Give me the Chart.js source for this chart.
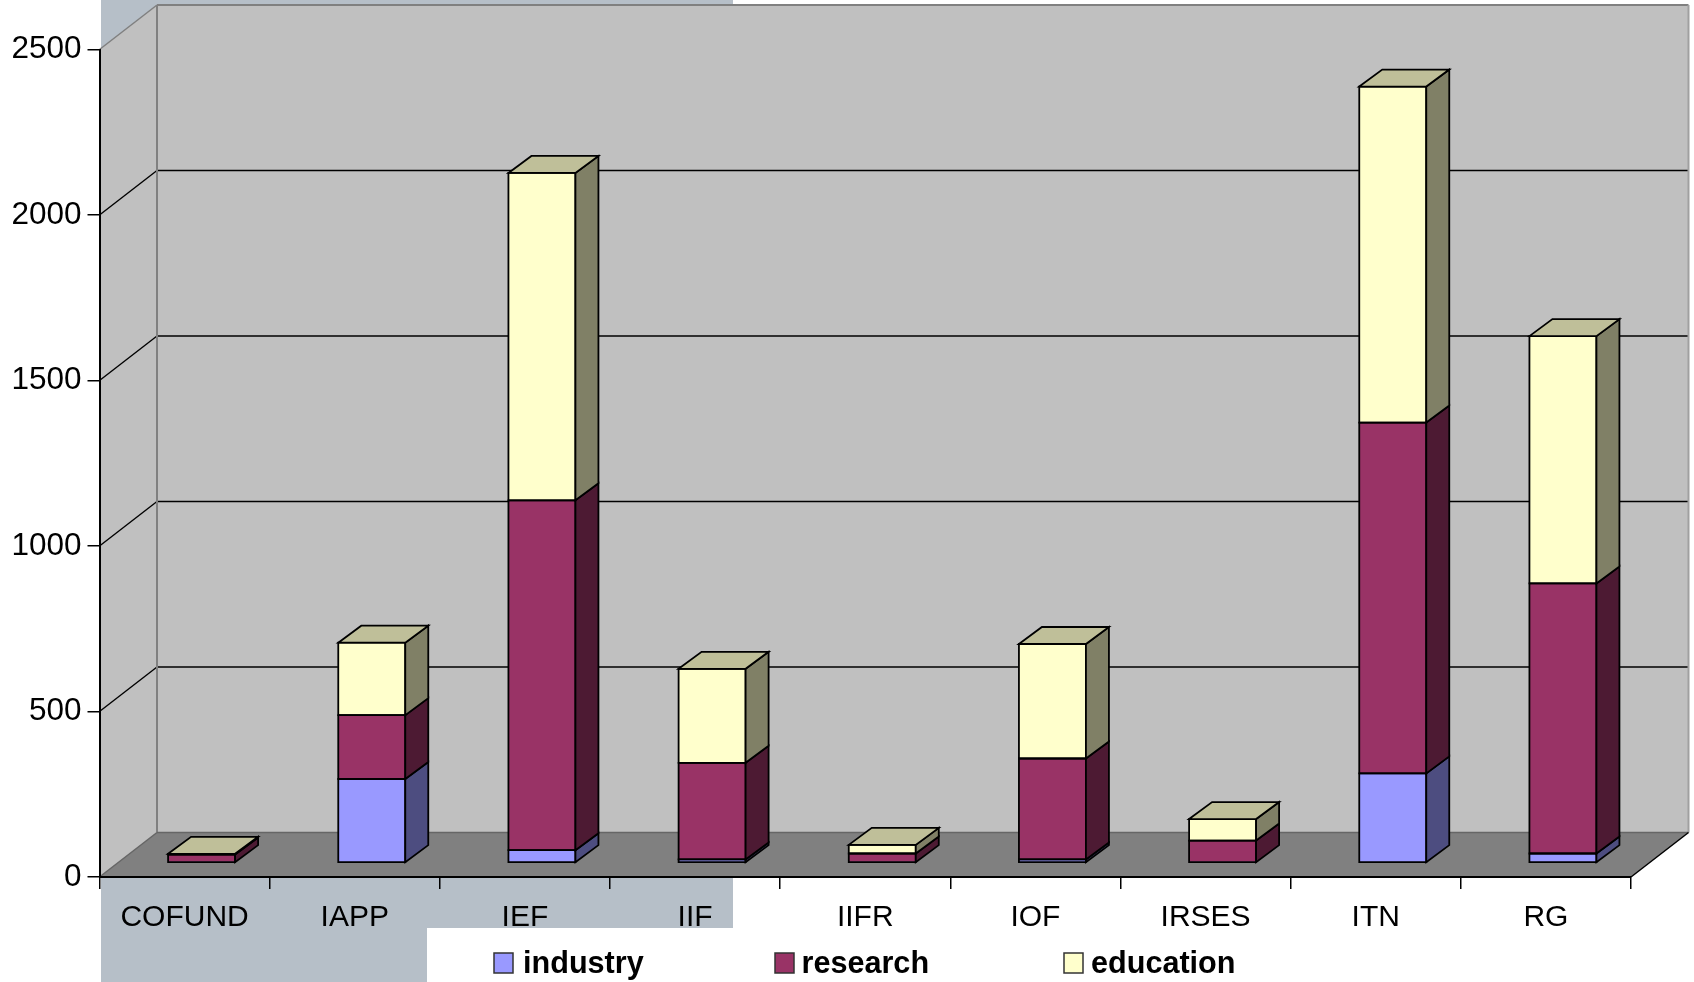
<!DOCTYPE html>
<html>
<head>
<meta charset="utf-8">
<title>Chart</title>
<script src="https://cdn.jsdelivr.net/npm/chart.js@4"></script>
<style>
body { margin: 0; background: #fff; }
canvas { display: block; }
</style>
</head>
<body>
<canvas id="chart" width="1694" height="982"></canvas>
<script>
//the values
var categories = ['COFUND', 'IAPP', 'IEF', 'IIF', 'IIFR', 'IOF', 'IRSES', 'ITN', 'RG'];
var industry = [0, 251, 36, 8, 0, 8, 0, 268, 26];
var research = [23, 193, 1057, 292, 26, 305, 65, 1060, 816];
var education = [2, 219, 989, 284, 26, 346, 65, 1015, 747];

var seriesNames = ['industry', 'research', 'education'];
var frontColors = ['#9999ff', '#993366', '#ffffcc'];
var sideColors = ['#4d4d80', '#4d1a33', '#808066'];
var lidColor = '#bfbf99';

//how far the back wall is from the front of the axes, in pixels
var wallX = 57.5;
var wallY = 44.5;
//how deep a bar is
var barX = 23;
var barY = 17;
var outline = 1.8;

//wrap a series so it sits on the linear x axis of the bars
function toPoints(values)
{
	return values.map(function(v, i){
		return {x: i, y: v};
	});
}

function polygon(ctx, pts, fill, stroke, lineWidth)
{
	ctx.beginPath();
	ctx.moveTo(pts[0][0], pts[0][1]);
	for(var i = 1; i < pts.length; i++)
		ctx.lineTo(pts[i][0], pts[i][1]);
	ctx.closePath();
	if(fill)
	{
		ctx.fillStyle = fill;
		ctx.fill();
	}
	if(stroke)
	{
		ctx.strokeStyle = stroke;
		ctx.lineWidth = lineWidth;
		ctx.stroke();
	}
}

function line(ctx, x1, y1, x2, y2, color, lineWidth)
{
	ctx.beginPath();
	ctx.moveTo(x1, y1);
	ctx.lineTo(x2, y2);
	ctx.strokeStyle = color;
	ctx.lineWidth = lineWidth;
	ctx.stroke();
}

//the slide behind the chart, then the walls and floor of the 3d box
var wallsPlugin = {
	id: 'walls',
	beforeDraw: function(chart){
		var ctx = chart.ctx;
		var a = chart.chartArea;
		var yAxis = chart.scales.y;

		ctx.save();
		ctx.fillStyle = '#b6bfc8';
		ctx.fillRect(101, 0, 632, 982);
		ctx.fillStyle = '#ffffff';
		ctx.fillRect(427, 928, 1267, 54);

		//left wall and back wall
		polygon(ctx, [[a.left, a.top], [a.left + wallX, a.top - wallY], [a.left + wallX, a.bottom - wallY], [a.left, a.bottom]], '#c0c0c0');
		ctx.fillStyle = '#c0c0c0';
		ctx.fillRect(a.left + wallX, a.top - wallY, a.width, a.height);

		//grid lines, going round the left wall and along the back
		yAxis.ticks.forEach(function(t){
			var y = yAxis.getPixelForValue(t.value);
			if(t.value === 0 || t.value === 2500)
				return;
			line(ctx, a.left, y, a.left + wallX, y - wallY, '#000', 1.4);
			line(ctx, a.left + wallX, y - wallY, a.right + wallX, y - wallY, '#000', 1.4);
		});

		//edges of the walls
		line(ctx, a.left, a.top, a.left + wallX, a.top - wallY, '#808080', 1.5);
		line(ctx, a.left + wallX, a.top - wallY, a.right + wallX, a.top - wallY, '#808080', 2);
		line(ctx, a.left + wallX, a.top - wallY, a.left + wallX, a.bottom - wallY, '#808080', 2);
		line(ctx, a.right + wallX, a.top - wallY, a.right + wallX, a.bottom - wallY, '#a0a0a0', 2);

		//floor
		polygon(ctx, [[a.left, a.bottom], [a.right, a.bottom], [a.right + wallX, a.bottom - wallY], [a.left + wallX, a.bottom - wallY]], '#808080');
		line(ctx, a.left + wallX, a.bottom - wallY, a.right + wallX, a.bottom - wallY, '#666666', 1.5);
		line(ctx, a.right, a.bottom, a.right + wallX, a.bottom - wallY, '#000', 1.5);
		line(ctx, a.left, a.bottom, a.left + wallX, a.bottom - wallY, '#666666', 1.5);
		ctx.restore();
	}
};

//outline of every segment, its side, and the lid of every column
var boxPlugin = {
	id: 'boxes',
	afterDatasetsDraw: function(chart){
		var ctx = chart.ctx;
		ctx.save();
		ctx.lineJoin = 'miter';
		chart.data.datasets.forEach(function(ds, d){
			chart.getDatasetMeta(d).data.forEach(function(bar){
				var p = bar.getProps(['x', 'y', 'base', 'width'], true);
				var left = p.x - p.width / 2;
				var right = p.x + p.width / 2;
				//empty segments have nothing to draw
				if(p.base - p.y < 0.5)
					return;
				polygon(ctx, [[left, p.y], [right, p.y], [right, p.base], [left, p.base]], null, '#000', outline);
				polygon(ctx, [[right, p.y], [right + barX, p.y - barY], [right + barX, p.base - barY], [right, p.base]], sideColors[d], '#000', outline);
			});
		});
		//only the top series gets a lid
		var last = chart.data.datasets.length - 1;
		chart.getDatasetMeta(last).data.forEach(function(bar){
			var p = bar.getProps(['x', 'y', 'width'], true);
			var left = p.x - p.width / 2;
			var right = p.x + p.width / 2;
			polygon(ctx, [[left, p.y], [left + barX, p.y - barY], [right + barX, p.y - barY], [right, p.y]], lidColor, '#000', outline);
		});
		ctx.restore();
	}
};

//legend along the bottom, the gaps do not fit the built in one
var legendPlugin = {
	id: 'bottomLegend',
	afterDraw: function(chart){
		var ctx = chart.ctx;
		var boxX = [494, 775, 1064];
		var textX = [523, 801.5, 1091];
		ctx.save();
		ctx.font = 'bold 30.6px "Liberation Sans"';
		ctx.textBaseline = 'middle';
		chart.data.datasets.forEach(function(ds, d){
			ctx.fillStyle = frontColors[d];
			ctx.fillRect(boxX[d], 953, 19, 20);
			ctx.strokeStyle = '#333';
			ctx.lineWidth = 1.5;
			ctx.strokeRect(boxX[d], 953, 19, 20);
			ctx.fillStyle = '#000';
			ctx.fillText(ds.label, textX[d], 965);
		});
		ctx.restore();
	}
};

var datasets = [industry, research, education].map(function(values, i){
	return {
		label: seriesNames[i],
		data: toPoints(values),
		backgroundColor: frontColors[i],
		borderWidth: 0,
		xAxisID: 'xBars',
		yAxisID: 'yBars',
		barThickness: 67
	};
});

var tickFont = {family: '"Liberation Sans"', size: 30};

new Chart(document.getElementById('chart'), {
	type: 'bar',
	data: {labels: categories, datasets: datasets},
	plugins: [wallsPlugin, boxPlugin, legendPlugin],
	options: {
		responsive: false,
		animation: false,
		devicePixelRatio: 1,
		layout: {padding: {top: 49.5, right: 63, left: 0, bottom: 0}},
		plugins: {legend: {display: false}, tooltip: {enabled: false}},
		scales: {
			//the axes that are seen, on the front edge of the box
			x: {
				type: 'category',
				offset: true,
				afterFit: function(scale){ scale.height = 105; },
				grid: {offset: true, drawOnChartArea: false, color: '#000', lineWidth: 1.5, tickLength: 12},
				border: {display: true, color: '#000', width: 2},
				ticks: {color: '#000', font: tickFont, padding: 11, autoSkip: false, maxRotation: 0}
			},
			y: {
				type: 'linear',
				min: 0,
				max: 2500,
				afterFit: function(scale){ scale.width = 99.5; },
				grid: {drawOnChartArea: false, color: '#000', lineWidth: 1.5, tickLength: 12},
				border: {display: true, color: '#000', width: 2},
				ticks: {
					color: '#000',
					font: {family: '"Liberation Sans"', size: 31.5},
					padding: 6,
					stepSize: 500,
					callback: function(v){ return String(v); }
				}
			},
			//hidden axes for the columns, they stand further back than the front edge
			xBars: {
				type: 'linear',
				axis: 'x',
				position: 'bottom',
				display: false,
				stacked: true,
				offset: false,
				min: -0.6,
				max: 8.4
			},
			yBars: {
				type: 'linear',
				axis: 'y',
				position: 'left',
				display: false,
				stacked: true,
				min: -45,
				max: 2455
			}
		}
	}
});
</script>
</body>
</html>
